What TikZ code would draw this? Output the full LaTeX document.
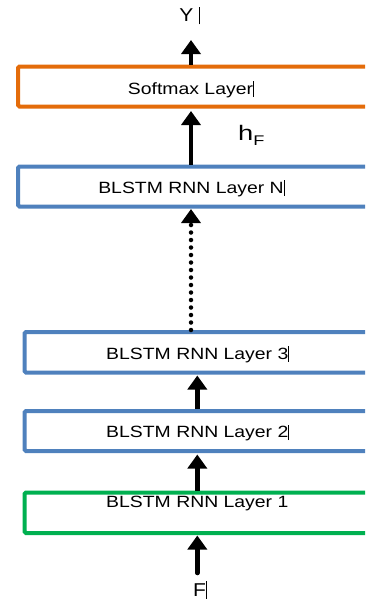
\documentclass[tikz,border=0pt]{standalone}
\usepackage{fontspec}
\setmainfont{Liberation Sans}
\usetikzlibrary{arrows.meta}
\definecolor{orangeL}{RGB}{228,108,10}
\definecolor{blueL}{RGB}{79,129,189}
\definecolor{greenL}{RGB}{0,176,80}
\newcommand\wide[2][1.19]{\scalebox{#1}[1]{#2}}
\newcommand\curs{\rule[-0.15em]{0.6pt}{0.95em}}
\begin{document}
\begin{tikzpicture}[x=1pt,y=-1pt,
  layerbox/.style={draw, line width=4pt, rounded corners=1.5pt, fill=white,
    inner sep=0pt, anchor=north west, minimum width=360pt},
  lbl/.style={inner sep=0pt, anchor=base, font=\fontsize{16.3}{19}\selectfont},
  arr/.style={line width=4.5pt, -{Triangle[length=14pt,width=19pt]}},
  dotline/.style={line cap=round, dash pattern=on 0pt off 7.5pt},
]
\useasboundingbox (0,0) rectangle (365,600);
\clip (0,0) rectangle (365,600);

% boxes
\node[layerbox, draw=orangeL, minimum height=40pt] (soft) at (16,64.5) {};
\node[layerbox, draw=blueL, minimum height=40pt] (N) at (16,164.5) {};
\node[layerbox, draw=blueL, minimum height=40.5pt] (l3) at (22.5,330) {};
\node[layerbox, draw=blueL, minimum height=40pt] (l2) at (22.5,409) {};
\node[layerbox, draw=greenL, minimum height=40.5pt] (l1) at (22.5,490.5) {};

% texts
\node[lbl] (softT) at (190.5,94.4) {\wide{Softmax Layer}\rlap{\curs}};
\node[lbl] (NT) at (191,193.3) {\wide{BLSTM RNN Layer N}\rlap{\curs}};
\node[lbl] (l3T) at (197.3,359.3) {\wide{BLSTM RNN Layer 3}\rlap{\curs}};
\node[lbl] (l2T) at (197.3,437.7) {\wide{BLSTM RNN Layer 2}\rlap{\curs}};
\node[lbl] (l1T) at (197.3,507.7) {\wide{BLSTM RNN Layer 1}};
\node[lbl, font=\fontsize{18.6}{21}\selectfont] (Y) at (186.3,21.7) {\wide[1.13]{Y}\rlap{\hspace{6pt}\curs}};
\node[lbl, font=\fontsize{18.6}{21}\selectfont] (F) at (199.5,596) {\wide[1.13]{F}\rlap{\curs}};
\node[inner sep=0pt, anchor=base west] (hF) at (238,140.7)
  {\wide[1.3]{\fontsize{21}{24}\selectfont h\raisebox{-5pt}{\fontsize{14}{16}\selectfont F}}};

% connectors
\coordinate (ytip) at (191,40);
\coordinate (inp) at (197.3,573);
\draw[arr] (soft.north -| NT) -- (ytip);
\draw[arr, shorten >=2.5pt] (N.north -| NT) -- (soft.south -| NT);
\draw[arr, dotline, shorten >=0.5pt] (l3.north -| NT) -- (N.south -| NT);
\draw[arr, shorten >=1pt] (l2.north -| l3T) -- (l3.south -| l3T);
\draw[arr, shorten >=1.5pt] (l1.north -| l2T) -- (l2.south -| l2T);
\draw[arr, line cap=round, shorten >=0.5pt] (inp) -- (l1.south -| l1T);
\end{tikzpicture}
\end{document}
